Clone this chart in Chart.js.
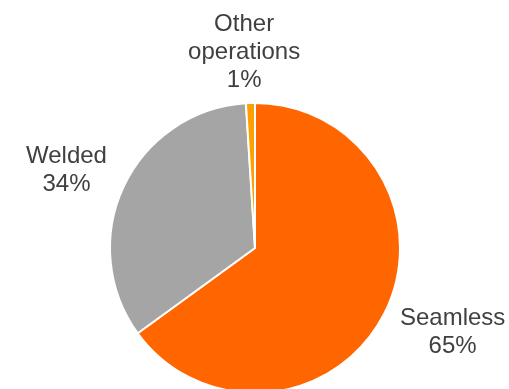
<!DOCTYPE html>
<html>
<head>
<meta charset="utf-8">
<script src="https://cdn.jsdelivr.net/npm/chart.js@4/dist/chart.umd.min.js"></script>
<style>
  html, body { margin: 0; padding: 0; background: #ffffff; }
  #frame { width: 509px; height: 389px; overflow: hidden; position: relative; }
  #holder { width: 509px; height: 400px; position: absolute; left: 0; top: 0; }
</style>
</head>
<body>
<div id="frame"><div id="holder"><canvas id="chart"></canvas></div></div>
<script>
// Production split by pipe type
const categories = [['Seamless'], ['Welded'], ['Other', 'operations']];
const shares = [65, 34, 1];
const sliceColors = ['#FF6600', '#A5A5A5', '#FFA000'];

// Label block centres, relative to the pie centre in units of the radius
const labelPlacement = [[1.363, 0.585], [-1.30, -0.535], [-0.075, -1.35]];

const labelPlugin = {
  id: 'sliceLabels',
  afterDatasetsDraw(chart) {
    const ctx = chart.ctx;
    const meta = chart.getDatasetMeta(0);
    ctx.save();
    ctx.fillStyle = '#404040';
    ctx.font = '24px "Liberation Sans", Arial, sans-serif';
    ctx.textAlign = 'center';
    ctx.textBaseline = 'middle';
    const lineH = 28;
    meta.data.forEach((arc, i) => {
      const r = arc.outerRadius;
      const cx = arc.x + labelPlacement[i][0] * r;
      const cy = arc.y + labelPlacement[i][1] * r;
      const lines = categories[i].concat([shares[i] + '%']);
      const top = cy - (lines.length - 1) * lineH / 2;
      lines.forEach((t, k) => ctx.fillText(t, cx, top + k * lineH));
    });
    ctx.restore();
  }
};

new Chart(document.getElementById('chart'), {
  type: 'pie',
  data: {
    labels: categories.map(c => c.join(' ')),
    datasets: [{
      data: shares,
      backgroundColor: sliceColors,
      borderColor: '#ffffff',
      borderWidth: 2
    }]
  },
  options: {
    responsive: true,
    maintainAspectRatio: false,
    animation: false,
    layout: { padding: { top: 102, bottom: 6, left: 109, right: 108 } },
    plugins: {
      legend: { display: false },
      tooltip: { enabled: false }
    }
  },
  plugins: [labelPlugin]
});
</script>
</body>
</html>
